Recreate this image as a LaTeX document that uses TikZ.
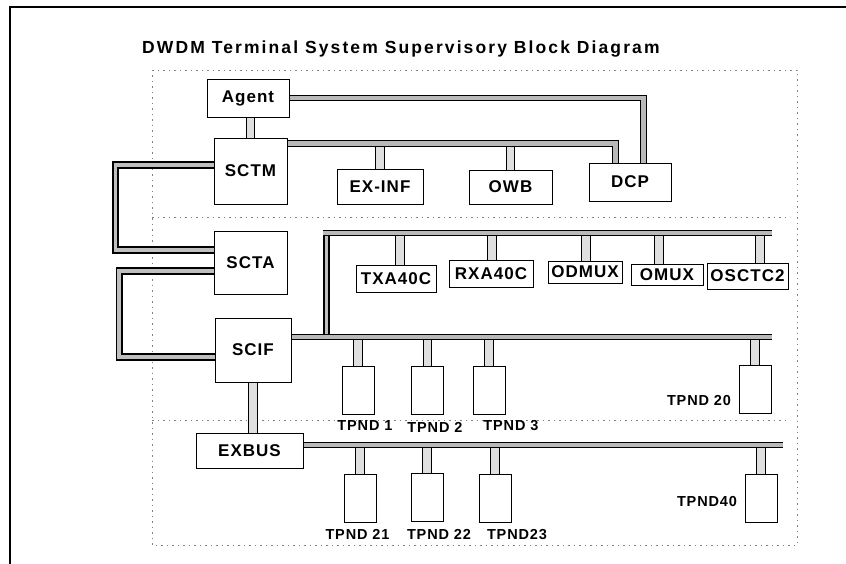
\documentclass[tikz,border=0pt]{standalone}
\usepackage{fontspec}
\setmainfont{Liberation Sans}
\newfontfamily\diagfont[LetterSpace=6]{Liberation Sans}
\newfontfamily\titlefont[LetterSpace=12]{Liberation Sans}
\usetikzlibrary{backgrounds}

\begin{document}
\begin{tikzpicture}[
  x=1pt, y=-1pt,
  unit/.style={draw, line width=0.9pt, fill=white, inner sep=1pt,
               font=\diagfont\bfseries\fontsize{17}{19}\selectfont},
  tpnd/.style={draw, line width=0.9pt, fill=white, minimum width=32pt, minimum height=48pt},
  lbl/.style={inner sep=0pt, font=\diagfont\bfseries\fontsize{14.5}{16}\selectfont},
  bus/.style={line width=0.9pt, double=gray!55, double distance=4.5pt},
  stub/.style={line width=0.8pt, double=gray!25, double distance=7.5pt},
  link/.style={line width=1.8pt, double=gray!50, double distance=3.5pt},
  panel/.style={gray, line width=0.6pt, dash pattern=on 1.5pt off 4pt},
]
\useasboundingbox (0,0) rectangle (846,564);

% Title
\node[anchor=west, inner sep=0pt, font=\titlefont\bfseries\fontsize{17.5}{20}\selectfont] (title)
  at (142,49) {DWDM Terminal System Supervisory Block Diagram};

% Supervisory units
\node[unit, minimum width=82pt, minimum height=38pt] (agent) at (248,98) {Agent};
\node[unit, minimum width=73pt, minimum height=66pt] (sctm) at (250.5,171) {SCTM};
\node[unit, minimum width=86pt, minimum height=35pt] (exinf) at (380,186.5) {EX-INF};
\node[unit, minimum width=83pt, minimum height=34pt] (owb) at (510.5,187) {OWB};
\node[unit, minimum width=82pt, minimum height=38pt] (dcp) at (630,182) {DCP};
\node[unit, minimum width=73pt, minimum height=63pt] (scta) at (250.5,262.5) {SCTA};
\node[unit, minimum width=76pt, minimum height=64pt] (scif) at (253,350) {SCIF};

% Optical modules
\node[unit, minimum width=80pt, minimum height=27pt] (txa) at (396,278.5) {TXA40C};
\node[unit, minimum width=84pt, minimum height=27pt] (rxa) at (491,273.5) {RXA40C};
\node[unit, minimum width=74pt, minimum height=22pt] (odmux) at (585,272) {ODMUX};
\node[unit, minimum width=72pt, minimum height=21pt] (omux) at (667,274.5) {OMUX};
\node[unit, minimum width=81pt, minimum height=26pt] (osctc) at (747.5,276) {OSCTC2};

% Tributary units
\node[tpnd] (t1) at (358,390) {};
\node[tpnd] (t2) at (427.5,390) {};
\node[tpnd] (t3) at (489,390) {};
\node[tpnd] (t20) at (755,389.5) {};
\node[unit, minimum width=107pt, minimum height=35pt] (exbus) at (249.5,450.5) {EXBUS};
\node[tpnd] (t21) at (360,498.5) {};
\node[tpnd] (t22) at (427,497) {};
\node[tpnd] (t23) at (495,498) {};
\node[tpnd] (t40) at (761,498.5) {};

% Labels
\node[lbl] (l1) at (365,426) {TPND 1};
\node[lbl] (l2) at (435,427) {TPND 2};
\node[lbl] (l3) at (511,426) {TPND 3};
\node[lbl] (l20) at (699,401) {TPND 20};
\node[lbl] (l21) at (357.5,534) {TPND 21};
\node[lbl] (l22) at (439,534) {TPND 22};
\node[lbl] (l23) at (517,535) {TPND23};
\node[lbl] (l40) at (707,502) {TPND40};

% Bus ends
\coordinate (sctmbus) at ([yshift=-6pt]sctm.north east);
\coordinate (rise) at (326.5,337);
\coordinate (modbus) at (772,233);
\coordinate (tribus) at (772,337);
\coordinate (exbusend) at (783,445);

\begin{scope}[on background layer]
% Frame and panels
\draw[line width=1.6pt] (846,7) -- (10,7) -- (10,564);
\draw[panel] (152,70) rectangle (797,545);
\draw[panel] (152,217) -- (790,217);
\draw[panel] (152,420) -- (790,420);

% Stubs
\draw[stub] (sctm.north) -- (agent.south -| sctm.north);
\draw[stub] (exinf.north) -- (exinf.north |- sctmbus);
\draw[stub] (owb.north) -- (owb.north |- sctmbus);
\draw[stub] ([xshift=4pt]txa.north) -- ([xshift=4pt]txa.north |- modbus);
\draw[stub] ([xshift=1pt]rxa.north) -- ([xshift=1pt]rxa.north |- modbus);
\draw[stub] ([xshift=1pt]odmux.north) -- ([xshift=1pt]odmux.north |- modbus);
\draw[stub] ([xshift=-8pt]omux.north) -- ([xshift=-8pt]omux.north |- modbus);
\draw[stub] ([xshift=12.5pt]osctc.north) -- ([xshift=12.5pt]osctc.north |- modbus);
\draw[stub] (t1.north) -- (t1.north |- tribus);
\draw[stub] (t2.north) -- (t2.north |- tribus);
\draw[stub] (t3.north) -- (t3.north |- tribus);
\draw[stub] (t20.north) -- (t20.north |- tribus);
\draw[stub] (scif.south) -- (scif.south |- exbus.north);
\draw[stub] (t21.north) -- (t21.north |- exbusend);
\draw[stub] (t22.north) -- (t22.north |- exbusend);
\draw[stub] (t23.north) -- (t23.north |- exbusend);
\draw[stub] (t40.north) -- (t40.north |- exbusend);

% Controller links
\draw[link] ([yshift=6pt]sctm.west) -- ++(-98,0) |- ([yshift=12.5pt]scta.west);
\draw[link] ([yshift=-8.5pt]scta.west) -- ++(-94.5,0) |- ([yshift=-7pt]scif.west);
\draw[link] (rise) -- ([yshift=-3pt]rise |- modbus);

% Buses
\draw[bus] (agent.east) -| ([xshift=13.5pt]dcp.north);
\draw[bus] (sctmbus) -| ([xshift=-14.5pt]dcp.north);
\draw[bus] ([xshift=-3.5pt]rise |- modbus) -- (modbus);
\draw[bus] ([yshift=13pt]scif.east) -- (tribus);
\draw[bus] ([yshift=5.5pt]exbus.east) -- (exbusend);
\end{scope}
\end{tikzpicture}
\end{document}
